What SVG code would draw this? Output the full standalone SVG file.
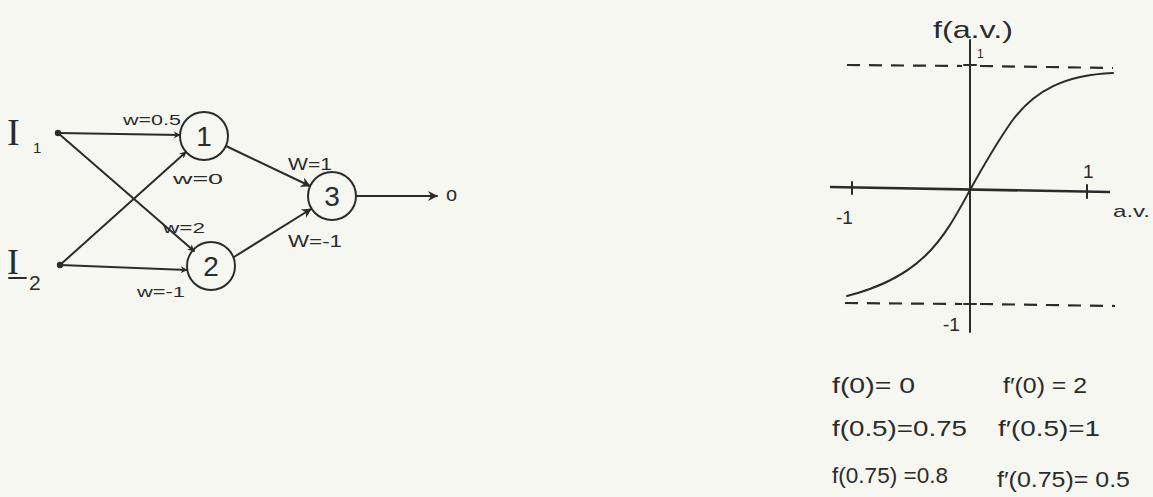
<svg xmlns="http://www.w3.org/2000/svg" width="1153" height="497" viewBox="0 0 1153 497">
<style>
.ln{stroke:#2b2b2b;stroke-width:2;fill:none;stroke-linecap:round}
.th{stroke:#2b2b2b;stroke-width:2.6;fill:none}
.dash{stroke:#2b2b2b;stroke-width:2.2;fill:none;stroke-dasharray:13 9}
.nd{stroke:#2b2b2b;stroke-width:2;fill:none}
.t{font-family:"Liberation Sans",Arial,sans-serif;fill:#2b2b2b}
.s{font-family:"Liberation Serif","Times New Roman",serif;fill:#2b2b2b}
</style>
<defs>
<marker id="ah" viewBox="0 0 10 10" refX="9" refY="5" markerWidth="7" markerHeight="7" orient="auto" markerUnits="userSpaceOnUse">
<path d="M0,0 L10,5 L0,10 L3,5 z" fill="#2b2b2b"/>
</marker>
<marker id="ahb" viewBox="0 0 10 10" refX="9" refY="5" markerWidth="10" markerHeight="10" orient="auto" markerUnits="userSpaceOnUse">
<path d="M0,0 L10,5 L0,10 L3,5 z" fill="#2b2b2b"/>
</marker>
</defs>
<rect width="1153" height="497" fill="#f6f7f1"/>

<g id="connectors">
<line class="ln" x1="58" y1="133" x2="180" y2="135" marker-end="url(#ah)"/>
<line class="ln" x1="58" y1="133" x2="194" y2="251" marker-end="url(#ah)"/>
<line class="ln" x1="60" y1="265" x2="186" y2="152" marker-end="url(#ah)"/>
<line class="ln" x1="60" y1="265" x2="187" y2="270" marker-end="url(#ah)"/>
<line class="ln" x1="226" y1="146" x2="310" y2="186" marker-end="url(#ahb)"/>
<line class="ln" x1="234" y1="257" x2="311" y2="209" marker-end="url(#ahb)"/>
<line class="ln" x1="356" y1="196" x2="437" y2="196" marker-end="url(#ahb)"/>
<text class="t" x="123" y="125" font-size="15" textLength="58" lengthAdjust="spacingAndGlyphs">w=0.5</text>
<text class="t" x="173" y="184" font-size="15" textLength="50" lengthAdjust="spacingAndGlyphs">w=0</text>
<text class="t" x="163" y="233" font-size="15" textLength="42" lengthAdjust="spacingAndGlyphs">w=2</text>
<text class="t" x="137" y="297" font-size="15" textLength="48" lengthAdjust="spacingAndGlyphs">w=-1</text>
<text class="t" x="288" y="170" font-size="17" textLength="44" lengthAdjust="spacingAndGlyphs">W=1</text>
<text class="t" x="288" y="247" font-size="17" textLength="54" lengthAdjust="spacingAndGlyphs">W=-1</text>
</g>

<g id="I1">
<circle cx="58" cy="133" r="3.2" fill="#2b2b2b"/>
<text class="s" x="7" y="145" font-size="38">I</text>
<text class="t" x="33" y="153" font-size="15">1</text>
</g>
<g id="I2">
<circle cx="60" cy="265" r="3.2" fill="#2b2b2b"/>
<text class="s" x="7" y="274" font-size="36">I</text>
<line class="ln" x1="9" y1="278" x2="26" y2="278"/>
<text class="t" x="29" y="290" font-size="21">2</text>
</g>
<g id="node1">
<circle class="nd" cx="204" cy="136" r="24"/>
<text class="t" x="204" y="146" font-size="28" text-anchor="middle">1</text>
</g>
<g id="node2">
<circle class="nd" cx="211" cy="266" r="24"/>
<text class="t" x="211" y="276" font-size="28" text-anchor="middle">2</text>
</g>
<g id="node3">
<circle class="nd" cx="332" cy="196" r="24"/>
<text class="t" x="332" y="206" font-size="28" text-anchor="middle">3</text>
</g>
<g id="output">
<text class="t" x="446" y="201" font-size="20">o</text>
</g>

<g id="graph">
<text class="t" x="933" y="38" font-size="24" textLength="80" lengthAdjust="spacingAndGlyphs">f(a.v.)</text>
<line class="ln" x1="970" y1="40" x2="970" y2="332"/>
<line class="th" x1="830" y1="187" x2="1110" y2="192"/>
<line class="ln" x1="852" y1="182" x2="852" y2="194"/>
<line class="ln" x1="1087" y1="185" x2="1087" y2="198"/>
<line class="ln" x1="964" y1="65" x2="976" y2="65"/>
<line class="ln" x1="964" y1="304" x2="976" y2="304"/>
<line class="dash" x1="847" y1="65" x2="962" y2="66"/>
<line class="dash" x1="980" y1="66" x2="1113" y2="68"/>
<line class="dash" x1="845" y1="303" x2="962" y2="304"/>
<line class="dash" x1="980" y1="304" x2="1115" y2="306"/>
<path class="ln" d="M847,296 C870,290 900,280 925,256 C945,237 958,212 970,190 C985,163 1000,138 1012,121 C1035,90 1065,75 1113,73"/>
<text class="t" x="977" y="58" font-size="12">1</text>
<text class="t" x="836" y="224" font-size="19">-1</text>
<text class="t" x="1083" y="178" font-size="19">1</text>
<text class="t" x="1113" y="217" font-size="17" textLength="37" lengthAdjust="spacingAndGlyphs">a.v.</text>
<text class="t" x="943" y="331" font-size="19">-1</text>
</g>

<g id="formulas">
<text class="t" x="832" y="393" font-size="22" textLength="83" lengthAdjust="spacingAndGlyphs">f(0)= 0</text>
<text class="t" x="1003" y="393" font-size="22" textLength="84" lengthAdjust="spacingAndGlyphs">f′(0) = 2</text>
<text class="t" x="832" y="436" font-size="22" textLength="135" lengthAdjust="spacingAndGlyphs">f(0.5)=0.75</text>
<text class="t" x="998" y="436" font-size="22" textLength="102" lengthAdjust="spacingAndGlyphs">f′(0.5)=1</text>
<text class="t" x="832" y="483" font-size="22" textLength="116" lengthAdjust="spacingAndGlyphs">f(0.75) =0.8</text>
<text class="t" x="997" y="487" font-size="22" textLength="133" lengthAdjust="spacingAndGlyphs">f′(0.75)= 0.5</text>
</g>
</svg>
